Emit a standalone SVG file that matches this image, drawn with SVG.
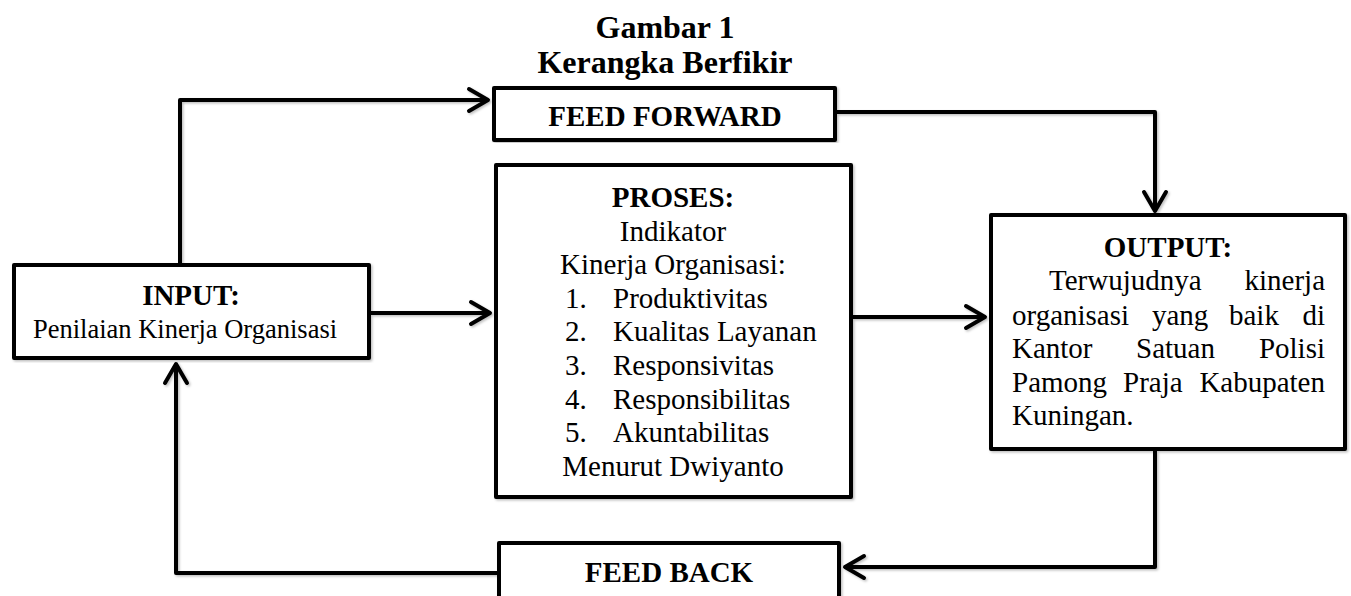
<svg xmlns="http://www.w3.org/2000/svg" width="1351" height="596" viewBox="0 0 1351 596">
<style>
.box{fill:#fff;stroke:#000;stroke-width:4;stroke-linejoin:round}
.ln{fill:none;stroke:#000;stroke-width:4;stroke-linejoin:round}
.t{font-family:"Liberation Serif","Times New Roman",serif;fill:#000;font-size:29px}
.b{font-weight:bold}
.c{text-anchor:middle}
.e{text-anchor:end}
</style>
<defs>
<filter id="sh" x="-5%" y="-5%" width="110%" height="110%">
<feDropShadow dx="1.5" dy="1.5" stdDeviation="1" flood-color="#000" flood-opacity="0.25"/>
</filter>
<marker id="ah" markerUnits="userSpaceOnUse" markerWidth="30" markerHeight="30" viewBox="-24 -15 28 30" refX="0" refY="0" orient="auto">
<path d="M-19,-11 L0,0 L-19,11" fill="none" stroke="#000" stroke-width="4" stroke-linecap="round" stroke-linejoin="round"/>
</marker>
</defs>
<rect width="1351" height="596" fill="#fff"/>
<text class="t b c" x="665" y="38" style="font-size:32px">Gambar 1</text>
<text class="t b c" x="665" y="73" style="font-size:32px">Kerangka Berfikir</text>
<g id="connectors" filter="url(#sh)">
<path class="ln" d="M180,263 V100 H488" marker-end="url(#ah)"/>
<path class="ln" d="M837,112 H1155 V211" marker-end="url(#ah)"/>
<path class="ln" d="M371,313 H490" marker-end="url(#ah)"/>
<path class="ln" d="M853,317 H985" marker-end="url(#ah)"/>
<path class="ln" d="M1155,451 V567 H845" marker-end="url(#ah)"/>
<path class="ln" d="M497,573 H176 V364" marker-end="url(#ah)"/>
</g>
<g id="input">
<rect class="box" x="14" y="265" width="355" height="93" filter="url(#sh)"/>
<text class="t b c" x="191" y="305">INPUT:</text>
<text class="t c" x="185" y="338" style="font-size:26.5px">Penilaian Kinerja Organisasi</text>
</g>
<g id="feedforward">
<rect class="box" x="494" y="88" width="341" height="52" filter="url(#sh)"/>
<text class="t b c" x="665" y="126">FEED FORWARD</text>
</g>
<g id="proses">
<rect class="box" x="496" y="165" width="355" height="332" filter="url(#sh)"/>
<text class="t b c" x="673" y="207">PROSES:</text>
<text class="t c" x="673" y="240.6">Indikator</text>
<text class="t c" x="673" y="274.2">Kinerja Organisasi:</text>
<text class="t" x="565" y="307.8">1.</text><text class="t" x="613" y="307.8">Produktivitas</text>
<text class="t" x="565" y="341.4">2.</text><text class="t" x="613" y="341.4">Kualitas Layanan</text>
<text class="t" x="565" y="375">3.</text><text class="t" x="613" y="375">Responsivitas</text>
<text class="t" x="565" y="408.6">4.</text><text class="t" x="613" y="408.6">Responsibilitas</text>
<text class="t" x="565" y="442.2">5.</text><text class="t" x="613" y="442.2">Akuntabilitas</text>
<text class="t c" x="673" y="475.8">Menurut Dwiyanto</text>
</g>
<g id="output">
<rect class="box" x="991" y="215" width="354" height="234" filter="url(#sh)"/>
<text class="t b c" x="1168" y="257">OUTPUT:</text>
<text class="t" x="1049" y="290">Terwujudnya</text><text class="t e" x="1325" y="290">kinerja</text>
<text class="t" x="1012" y="325">organisasi</text><text class="t" x="1152" y="325">yang</text><text class="t" x="1229" y="325">baik</text><text class="t e" x="1325" y="325">di</text>
<text class="t" x="1012" y="358">Kantor</text><text class="t" x="1136" y="358">Satuan</text><text class="t e" x="1325" y="358">Polisi</text>
<text class="t" x="1012" y="392">Pamong</text><text class="t" x="1123" y="392">Praja</text><text class="t e" x="1325" y="392">Kabupaten</text>
<text class="t" x="1012" y="425">Kuningan.</text>
</g>
<g id="feedback">
<rect class="box" x="499" y="543" width="340" height="80" filter="url(#sh)"/>
<text class="t b c" x="669" y="582">FEED BACK</text>
</g>
</svg>
